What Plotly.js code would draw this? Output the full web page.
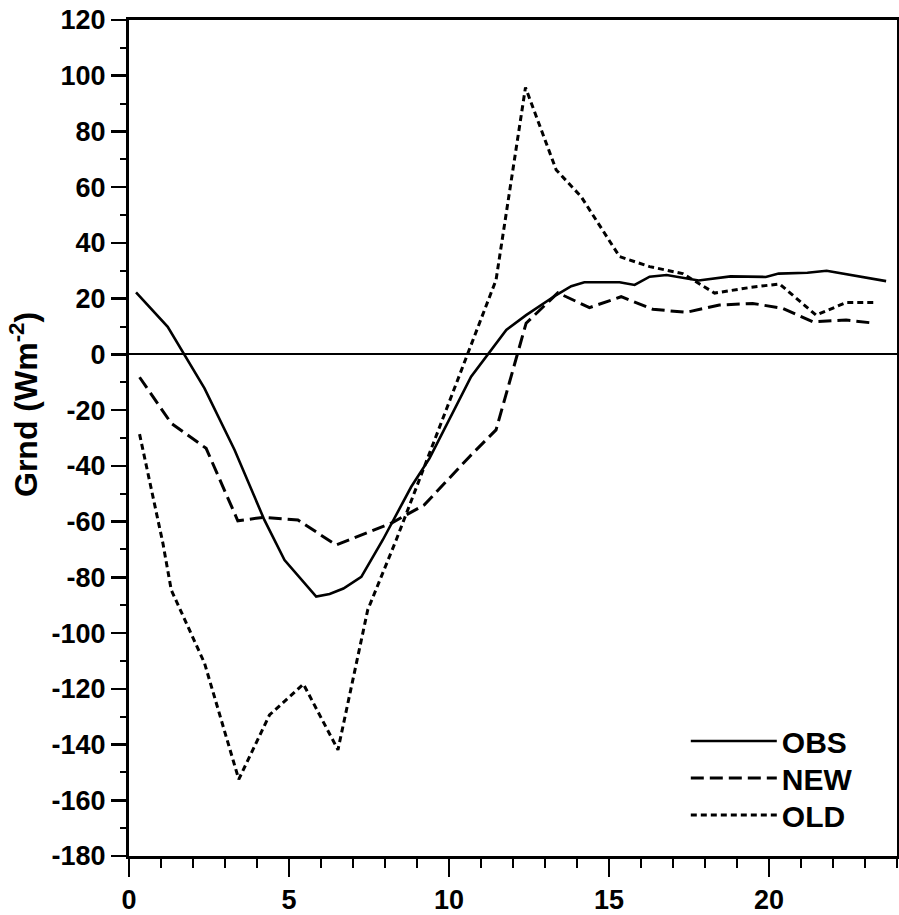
<!DOCTYPE html>
<html>
<head>
<meta charset="utf-8">
<script src="https://cdn.plot.ly/plotly-3.0.1.min.js"></script>
<style>html,body{margin:0;padding:0;background:#fff;}#chart{width:899px;height:915px;}</style>
</head>
<body>
<div id="chart"></div>
<script>
// Hour of day (x) and ground heat flux Grnd in W m-2 (y)
const obsX = [0.22, 1.21, 2.36, 3.30, 4.23, 4.86, 5.85, 6.27, 6.70, 7.26, 7.93, 8.82, 9.39, 10.69, 11.79, 12.41, 13.35, 13.82, 14.23, 15.33, 15.80, 16.27, 16.80, 17.80, 18.80, 19.50, 19.90, 20.30, 21.20, 21.80, 22.60, 23.66];
const obsY = [22.3, 9.9, -12.2, -34.3, -59.4, -73.8, -86.9, -86.0, -84.0, -79.8, -66.6, -47.5, -37.3, -8.0, 8.8, 14.1, 21.3, 24.5, 25.9, 25.9, 24.9, 27.9, 28.5, 26.5, 28.0, 28.0, 27.8, 29.0, 29.3, 30.0, 28.3, 26.3];

const newX = [0.33, 1.32, 2.41, 3.40, 4.18, 5.28, 6.47, 8.19, 9.23, 10.64, 11.47, 12.41, 13.40, 14.39, 15.38, 16.37, 17.41, 18.45, 19.49, 20.43, 21.37, 22.41, 23.30];
const newY = [-8.2, -24.7, -33.7, -59.7, -58.5, -59.4, -68.4, -60.6, -54.0, -36.7, -27.1, 11.2, 22.1, 16.8, 20.7, 16.2, 15.1, 17.7, 18.3, 16.5, 11.7, 12.3, 11.2];

const oldX = [0.33, 1.06, 1.32, 2.36, 3.43, 4.39, 5.45, 6.53, 7.46, 8.35, 10.59, 11.47, 12.39, 13.35, 14.13, 15.33, 16.27, 17.30, 18.30, 19.40, 20.33, 21.47, 22.41, 23.35];
const oldY = [-28.6, -67.8, -84.5, -110.8, -152.5, -129.4, -118.3, -141.9, -91.7, -66.6, 0.4, 26.7, 95.8, 66.2, 56.6, 35.1, 31.5, 29.0, 22.0, 24.0, 25.3, 14.1, 18.6, 18.6];

const seriesNames = ['OBS', 'NEW', 'OLD'];
const xTickVals = [0, 5, 10, 15, 20];
const yTickVals = [-180, -160, -140, -120, -100, -80, -60, -40, -20, 0, 20, 40, 60, 80, 100, 120];

const FONT = 'Liberation Sans, Arial, Helvetica, sans-serif';

const traces = [
  {x: obsX, y: obsY, name: seriesNames[0], mode: 'lines', line: {color: '#000', width: 2.6}, legend: 'legend'},
  {x: newX, y: newY, name: seriesNames[1], mode: 'lines', line: {color: '#000', width: 3, dash: '13px,6px'}, legend: 'legend2'},
  {x: oldX, y: oldY, name: seriesNames[2], mode: 'lines', line: {color: '#000', width: 3, dash: '6px,4px'}, legend: 'legend3'}
];

function leg(yPaper) {
  return {x: 0.725, xanchor: 'left', y: yPaper, yanchor: 'middle', bgcolor: 'rgba(0,0,0,0)', borderwidth: 0,
          itemwidth: 86, font: {family: FONT, size: 30, color: '#000', weight: 'bold'}};
}
function py(px) { return (856 - px) / 836; }

const layout = {
  width: 899, height: 915,
  margin: {l: 129, r: 2, t: 20, b: 59},
  paper_bgcolor: '#fff', plot_bgcolor: '#fff',
  font: {family: FONT, color: '#000'},
  xaxis: {
    range: [0, 24], tickvals: xTickVals, ticktext: xTickVals.map(String),
    ticks: 'outside', ticklen: 18, tickwidth: 2.5, tickcolor: '#000',
    minor: {dtick: 1, tick0: 0, ticks: 'outside', ticklen: 9, tickwidth: 2, tickcolor: '#000', showgrid: false},
    showline: true, linewidth: 3, linecolor: '#000', mirror: true,
    showgrid: false, zeroline: false,
    tickfont: {family: FONT, size: 27, color: '#000', weight: 'bold'}
  },
  yaxis: {
    range: [-180, 120], tickvals: yTickVals, ticktext: yTickVals.map(String),
    ticks: 'outside', ticklen: 15, tickwidth: 2.5, tickcolor: '#000',
    minor: {dtick: 10, tick0: 0, ticks: 'outside', ticklen: 6, tickwidth: 2, tickcolor: '#000', showgrid: false},
    showline: true, linewidth: 3, linecolor: '#000', mirror: true,
    showgrid: false, zeroline: true, zerolinewidth: 2, zerolinecolor: '#000',
    tickfont: {family: FONT, size: 27, color: '#000', weight: 'bold'}
  },
  showlegend: true,
  legend: leg(py(741)),
  legend2: leg(py(778)),
  legend3: leg(py(815)),
  annotations: [{
    text: 'Grnd (Wm<sup>-2</sup>)', textangle: -90, xref: 'paper', yref: 'paper',
    x: (24 - 129) / 768, y: py(405), xanchor: 'center', yanchor: 'middle', showarrow: false,
    font: {family: FONT, size: 32, color: '#000', weight: 'bold'}
  }]
};

Plotly.newPlot('chart', traces, layout, {displayModeBar: false, staticPlot: true});
</script>
</body>
</html>
